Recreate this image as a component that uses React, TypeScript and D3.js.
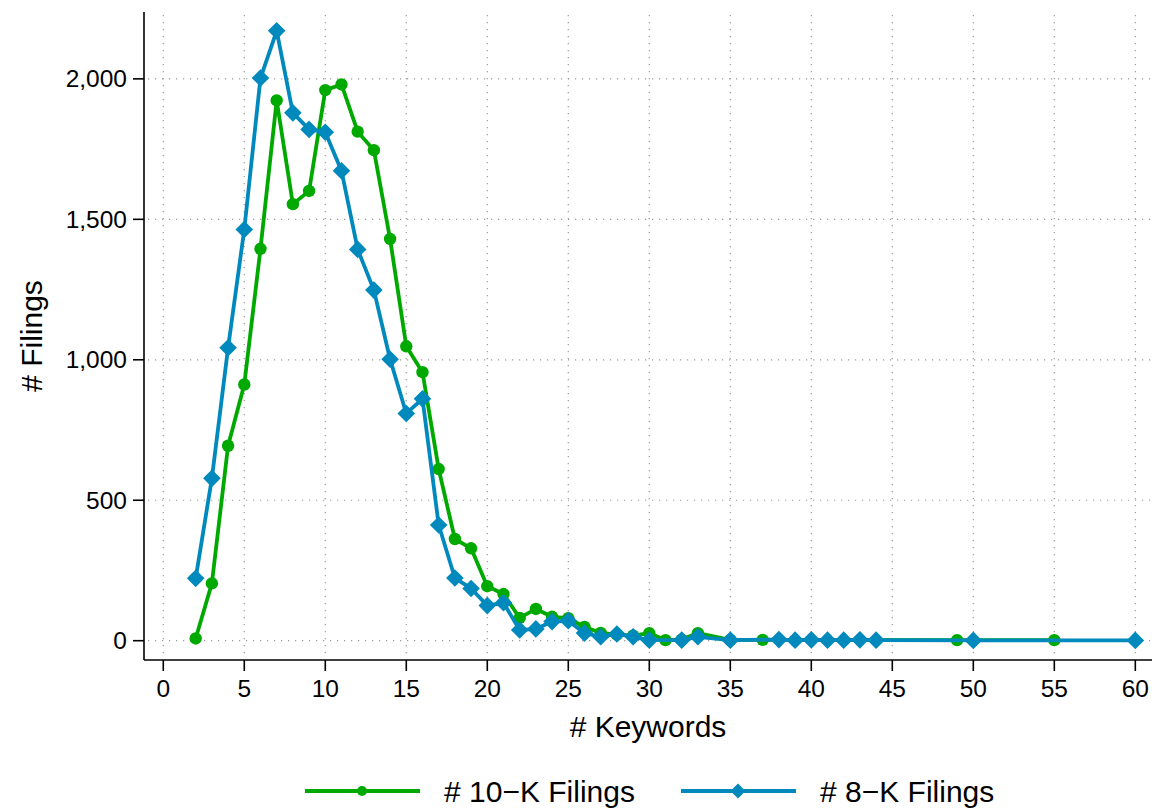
import React from 'react';
import * as d3 from 'd3';

// # keywords per filing (x) and number of filings (y)
const keywords10K = [2, 3, 4, 5, 6, 7, 8, 9, 10, 11, 12, 13, 14, 15, 16, 17, 18, 19, 20, 21, 22, 23, 24, 25, 26, 27, 28, 29, 30, 31, 32, 33, 35, 37, 49, 55];
const filings10K = [8, 204, 694, 912, 1395, 1923, 1554, 1601, 1960, 1980, 1812, 1746, 1430, 1048, 956, 611, 362, 329, 194, 166, 81, 113, 85, 80, 49, 28, 22, 18, 27, 2, 4, 27, 3, 3, 2, 2];

const keywords8K = [2, 3, 4, 5, 6, 7, 8, 9, 10, 11, 12, 13, 14, 15, 16, 17, 18, 19, 20, 21, 22, 23, 24, 25, 26, 27, 28, 29, 30, 32, 33, 35, 38, 39, 40, 41, 42, 43, 44, 50, 60];
const filings8K = [222, 578, 1043, 1464, 2003, 2171, 1879, 1820, 1810, 1673, 1393, 1248, 1002, 809, 861, 412, 223, 186, 125, 135, 38, 42, 68, 71, 27, 14, 24, 14, 2, 2, 14, 2, 4, 2, 3, 2, 2, 3, 2, 1, 1];

const xTicks = [0, 5, 10, 15, 20, 25, 30, 35, 40, 45, 50, 55, 60];
const yTicks = [0, 500, 1000, 1500, 2000];

const GREEN = '#00a900';
const BLUE = '#0089bc';
const FONT = '"Liberation Sans", Arial, Helvetica, sans-serif';

const width = 1156;
const height = 808;
const plot = { left: 144, right: 1152, top: 12, bottom: 660 };

const App = () => {
  const xScale = d3.scaleLinear().domain([-1.19, 61.03]).range([plot.left, plot.right]);
  const yScale = d3.scaleLinear().domain([-68.7, 2238]).range([plot.bottom, plot.top]);

  const line = d3
    .line<[number, number]>()
    .x((d) => xScale(d[0]))
    .y((d) => yScale(d[1]));

  const pts10K: [number, number][] = keywords10K.map((k, i) => [k, filings10K[i]]);
  const pts8K: [number, number][] = keywords8K.map((k, i) => [k, filings8K[i]]);

  const diamond = (cx: number, cy: number, r: number) =>
    `M${cx},${cy - r}L${cx + r},${cy}L${cx},${cy + r}L${cx - r},${cy}Z`;

  // legend layout
  const legY = 791;

  return (
    <svg
      width={width}
      height={height}
      style={{ position: 'absolute', left: 0, top: 0, background: '#fff' }}
      fontFamily={FONT}
    >
      {/* grid lines */}
      <g stroke="#9a9a9a" strokeWidth={1.2} strokeDasharray="1.2,5.8">
        {yTicks.map((t) => (
          <line key={`gy${t}`} x1={plot.left + 4} x2={plot.right} y1={yScale(t)} y2={yScale(t)} />
        ))}
        {xTicks.map((t) => (
          <line key={`gx${t}`} x1={xScale(t)} x2={xScale(t)} y1={plot.top + 3} y2={plot.bottom - 2} />
        ))}
      </g>

      {/* axes */}
      <g stroke="#000" strokeWidth={1.6} fill="none">
        <line x1={plot.left} x2={plot.left} y1={plot.top} y2={plot.bottom} />
        <line x1={plot.left} x2={plot.right} y1={plot.bottom} y2={plot.bottom} />
        {yTicks.map((t) => (
          <line key={`ty${t}`} x1={plot.left - 11} x2={plot.left} y1={yScale(t)} y2={yScale(t)} />
        ))}
        {xTicks.map((t) => (
          <line key={`tx${t}`} x1={xScale(t)} x2={xScale(t)} y1={plot.bottom} y2={plot.bottom + 11} />
        ))}
      </g>
      <g fontSize={24.5} fill="#000">
        {yTicks.map((t) => (
          <text key={`ly${t}`} x={plot.left - 17} y={yScale(t)} dy="0.35em" textAnchor="end">
            {d3.format(',')(t)}
          </text>
        ))}
        {xTicks.map((t) => (
          <text key={`lx${t}`} x={xScale(t)} y={plot.bottom + 37} textAnchor="middle">
            {t}
          </text>
        ))}
      </g>
      <text x={(plot.left + plot.right) / 2} y={737} fontSize={30} textAnchor="middle">
        # Keywords
      </text>
      <text
        transform={`translate(42, ${(plot.top + plot.bottom) / 2}) rotate(-90)`}
        fontSize={30}
        textAnchor="middle"
      >
        # Filings
      </text>

      {/* series: 10-K */}
      <path d={line(pts10K) || ''} fill="none" stroke={GREEN} strokeWidth={3.8} strokeLinejoin="round" />
      {pts10K.map((d, i) => (
        <circle key={`c${i}`} cx={xScale(d[0])} cy={yScale(d[1])} r={6.2} fill={GREEN} />
      ))}

      {/* series: 8-K */}
      <path d={line(pts8K) || ''} fill="none" stroke={BLUE} strokeWidth={3.8} strokeLinejoin="round" />
      {pts8K.map((d, i) => (
        <path key={`d${i}`} d={diamond(xScale(d[0]), yScale(d[1]), 8.8)} fill={BLUE} />
      ))}

      {/* legend */}
      <g>
        <line x1={305} x2={420} y1={legY} y2={legY} stroke={GREEN} strokeWidth={3.8} />
        <circle cx={362} cy={legY} r={5} fill={GREEN} />
        <text x={444} y={legY} dy="0.36em" fontSize={30}>
          # 10−K Filings
        </text>
        <line x1={681} x2={796} y1={legY} y2={legY} stroke={BLUE} strokeWidth={3.8} />
        <path d={diamond(738, legY, 7.5)} fill={BLUE} />
        <text x={820} y={legY} dy="0.36em" fontSize={30}>
          # 8−K Filings
        </text>
      </g>
    </svg>
  );
};

export default App;
